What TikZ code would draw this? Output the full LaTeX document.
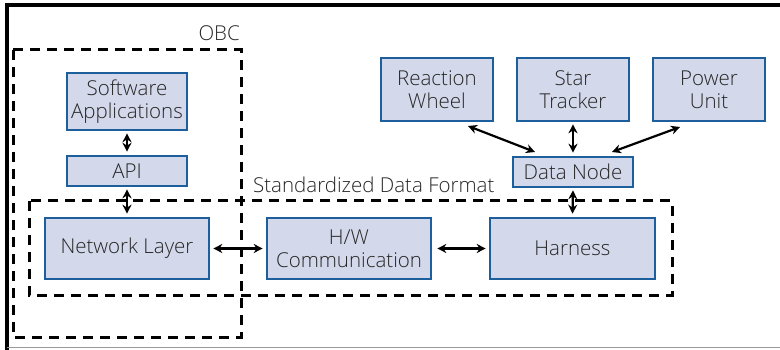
\documentclass[tikz,border=0pt]{standalone}
\usepackage{fontspec}
\setmainfont{Open Sans}[UprightFont={* Light}]
\usetikzlibrary{arrows.meta}
\definecolor{boxfill}{HTML}{D3D8EA}
\definecolor{boxline}{HTML}{1D5F9C}
\tikzset{
  x=1pt, y=-1pt,
  unit/.style={draw=boxline, fill=boxfill, line width=2.6pt, inner sep=0pt,
    align=center, font=\fontsize{20.5}{23}\selectfont, text=black!85},
  group/.style={draw=black, line width=3pt, dash pattern=on 10pt off 7pt},
  link/.style={line width=2.2pt, {Stealth[length=9pt,width=9pt]}-{Stealth[length=9pt,width=9pt]}},
  caption/.style={font=\fontsize{20.5}{23}\selectfont, text=black!85, inner sep=0pt}
}
\newcommand{\unitbox}[6]{% name, x1, y1, x2, y2, text
  \node[unit, minimum width={#4-#2}, minimum height={#5-#3}] (#1) at ({(#2+#4)/2},{(#3+#5)/2}) {#6};}
\begin{document}
\begin{tikzpicture}
\useasboundingbox (0,0) rectangle (780,350);
% page frame
\draw[line width=3.5pt] (780,5) -- (7,5) -- (7,350);
\draw[black!40, line width=1.2pt] (7,347.5) -- (780,347.5);

% groups
\draw[group] (13,50) rectangle (241,337);
\node[caption, anchor=south east] (obc) at (240,41) {OBC};
\draw[group] (29,201) rectangle (672,295);
\node[caption, anchor=south west] (sdf) at (253,193) {Standardized Data Format};

% components
\unitbox{sw}{67}{73}{187}{130}{Software\\Applications}
\unitbox{api}{67}{156}{187}{186}{API}
\unitbox{net}{45}{218}{209}{279}{Network Layer}
\unitbox{hw}{267}{218}{431}{279}{H/W\\Communication}
\unitbox{har}{490}{218}{655}{279}{Harness}
\unitbox{dn}{513}{157}{633}{187}{Data Node}
\unitbox{rw}{381}{58}{493}{121}{Reaction\\Wheel}
\unitbox{st}{517}{58}{629}{121}{Star\\Tracker}
\unitbox{pu}{653}{58}{765}{121}{Power\\Unit}

% links
\draw[link] ([yshift=-2pt]sw.south) -- ([yshift=3pt]api.north);
\draw[link] ([yshift=-2pt]api.south) -- ([yshift=3pt]net.north);
\draw[link] ([xshift=3pt]net.east) -- ([xshift=-3pt]hw.west);
\draw[link] ([xshift=5pt]hw.east) -- ([xshift=-3pt]har.west);
\draw[link] ([yshift=-2pt]dn.south) -- ([yshift=3pt]har.north);
\draw[link] ([yshift=-2pt]st.south) -- ([yshift=3pt]dn.north);
\coordinate (rwend) at (468,126);
\coordinate (puend) at (680,127);
\draw[link] (rwend) -- (535,152) coordinate (dnl);
\draw[link] (puend) -- (612,152) coordinate (dnr);
\end{tikzpicture}
\end{document}
